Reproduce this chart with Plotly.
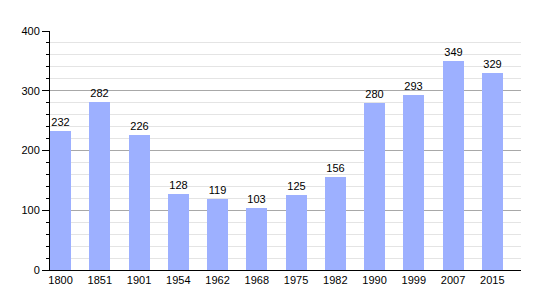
import plotly.graph_objects as go

years = ["1800", "1851", "1901", "1954", "1962", "1968", "1975", "1982", "1990", "1999", "2007", "2015"]
population = [232, 282, 226, 128, 119, 103, 125, 156, 280, 293, 349, 329]
y_ticks = [0, 100, 200, 300, 400]

idx = list(range(len(years)))

fig = go.Figure(go.Bar(
    x=idx, y=population, width=0.54,
    marker=dict(color="rgb(157,176,255)", line=dict(width=0)),
    text=[str(v) for v in population], textposition="outside",
    textfont=dict(family="Liberation Sans, Arial", size=11, color="black"),
    cliponaxis=False,
))

fig.update_layout(
    width=550, height=300,
    margin=dict(l=50, r=29, t=31, b=30),
    paper_bgcolor="white", plot_bgcolor="white",
    showlegend=False, bargap=0,
    font=dict(family="Liberation Sans, Arial", size=11, color="black"),
    xaxis=dict(
        range=[-0.27, 11.73], tickvals=idx, ticktext=years,
        showline=True, linecolor="black", linewidth=1,
        ticks="", showgrid=False, zeroline=False, fixedrange=True,
    ),
    yaxis=dict(
        range=[0, 400], tickvals=y_ticks,
        showline=True, linecolor="black", linewidth=1,
        ticks="outside", ticklen=7, tickcolor="black", tickwidth=1,
        showgrid=True, gridcolor="#a8a8a8", gridwidth=1,
        zeroline=False,
        minor=dict(dtick=20, showgrid=True, gridcolor="#e4e4e4", ticks="outside", ticklen=3, tickcolor="black"),
    ),
)

fig.write_html("out.html")
